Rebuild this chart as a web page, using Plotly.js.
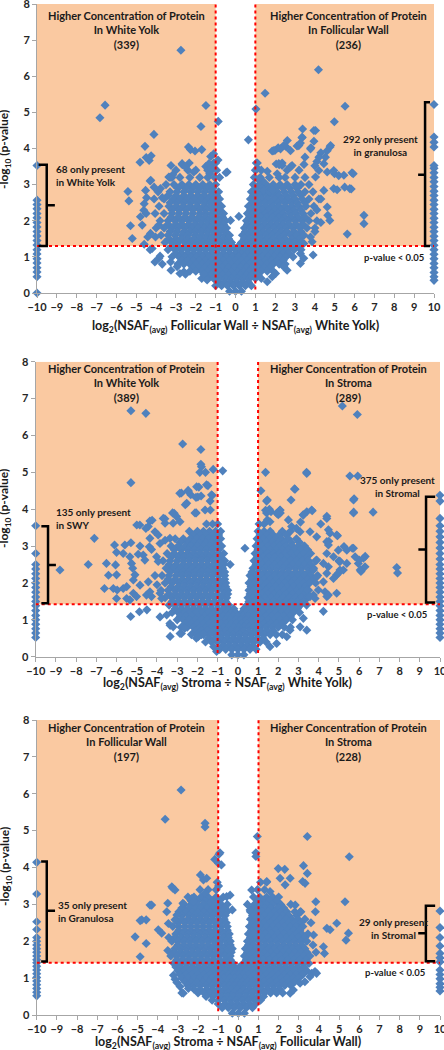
<!DOCTYPE html>
<html><head><meta charset="utf-8">
<script src="https://cdn.plot.ly/plotly-3.0.1.min.js"></script>
<style>html,body{margin:0;padding:0;background:#fff;}#chart{width:444px;height:1050px;}</style>
</head><body><div id="chart"></div>
<script>
// ---------------- DATA ----------------
const CAP = 10; // log2 ratio given to proteins present in one tissue only
const thresholds = [1.3, 1.42, 1.42]; // -log10(0.05) line as drawn in each panel

// Panel 1: log2(Follicular Wall / White Yolk)  rows: [ -log10 p , [log2 ratios] ]
const p1Rows = [
 [3.6,[-1.1,1.1]],
 [3.4,[-3.0,-2.4,-1.2,-0.95,1.0,1.3,2.6,3.2]],
 [3.2,[-3.3,-2.8,-2.3,-1.8,-1.4,-1.05,-0.8,0.95,1.25,1.7,2.2,2.5,3.0,3.5]],
 [3.0,[-3.5,-3.1,-2.7,-2.35,-2.0,-1.65,-1.3,-1.0,0.9,1.2,1.55,1.9,2.25,2.6,3.0,3.3,3.7]],
 [2.9,[-2.9,-2.5,-2.15,-1.8,-1.45,-1.15,1.0,1.35,1.7,2.05,2.4,2.75,3.1]],
 [2.8,[-3.9,-3.3,-2.95,-2.6,-2.25,-1.9,-1.55,-1.2,-0.85,0.8,1.1,1.4,1.75,2.1,2.45,2.8,3.15,3.5,3.9]],
 [2.7,[-3.4,-3.0,-2.6,-2.25,-1.9,-1.6,-1.25,-0.95,0.9,1.25,1.6,1.9,2.2,2.55,2.9,3.3]],
 [2.6,[-4.1,-3.6,-3.15,-2.8,-2.45,-2.1,-1.75,-1.4,-1.1,-0.8,0.75,1.05,1.35,1.65,2.0,2.3,2.65,3.0,3.35,3.7,4.2]],
 [2.5,[-3.3,-2.95,-2.6,-2.25,-1.9,-1.55,-1.25,-0.9,0.85,1.2,1.5,1.8,2.15,2.5,2.8,3.1,3.5]],
 [2.4,[-3.85,-3.35,-3.0,-2.65,-2.3,-1.95,-1.6,-1.3,-1.0,-0.7,0.65,0.95,1.25,1.55,1.9,2.2,2.5,2.85,3.2,3.55,3.95]],
 [2.3,[-3.2,-2.85,-2.5,-2.15,-1.8,-1.5,-1.15,-0.8,0.75,1.05,1.35,1.7,2.0,2.3,2.65,2.95,3.3]],
 [2.2,[-4.05,-3.6,-3.2,-2.85,-2.5,-2.15,-1.8,-1.5,-1.2,-0.9,-0.6,0.6,0.9,1.2,1.5,1.8,2.1,2.4,2.75,3.05,3.4,3.8]],
 [2.1,[-3.25,-2.9,-2.55,-2.2,-1.85,-1.55,-1.25,-0.95,-0.65,0.7,1.0,1.3,1.6,1.9,2.2,2.5,2.8,3.15,3.5]],
 [2.0,[-3.8,-3.4,-3.05,-2.7,-2.35,-2.0,-1.7,-1.4,-1.1,-0.8,-0.5,0.55,0.85,1.15,1.45,1.75,2.05,2.35,2.65,3.0,3.35,3.7,4.1]],
 [1.9,[-3.4,-3.0,-2.7,-2.35,-2.05,-1.75,-1.45,-1.15,-0.85,-0.6,0.6,0.9,1.2,1.5,1.8,2.1,2.4,2.7,3.05,3.4]],
 [1.8,[-4.0,-3.6,-3.2,-2.9,-2.55,-2.2,-1.9,-1.6,-1.3,-1.0,-0.7,-0.45,0.45,0.75,1.05,1.35,1.65,1.95,2.25,2.55,2.9,3.25,3.6,4.0]],
 [1.7,[-3.3,-2.95,-2.6,-2.3,-2.0,-1.7,-1.4,-1.1,-0.8,-0.5,0.5,0.8,1.1,1.4,1.7,2.0,2.3,2.6,2.95,3.3]],
 [1.6,[-3.75,-3.4,-3.05,-2.7,-2.4,-2.05,-1.75,-1.45,-1.15,-0.85,-0.55,-0.3,0.35,0.65,0.95,1.25,1.55,1.85,2.15,2.45,2.8,3.1,3.45]],
 [1.5,[-3.35,-3.0,-2.7,-2.4,-2.1,-1.8,-1.5,-1.2,-0.9,-0.6,-0.35,0.45,0.7,1.0,1.3,1.6,1.9,2.2,2.5,2.85,3.2]],
 [1.4,[-3.55,-3.2,-2.9,-2.55,-2.25,-1.95,-1.65,-1.35,-1.05,-0.75,-0.45,-0.2,0.3,0.55,0.85,1.15,1.45,1.75,2.05,2.35,2.7,3.0,3.35]],
 [1.3,[-3.2,-2.9,-2.55,-2.25,-1.95,-1.65,-1.35,-1.05,-0.75,-0.45,-0.15,0.15,0.4,0.65,0.95,1.25,1.55,1.85,2.15,2.45,2.8,3.1]],
 [1.2,[-3.4,-3.05,-2.75,-2.4,-2.1,-1.8,-1.5,-1.2,-0.9,-0.6,-0.3,0.0,0.25,0.5,0.8,1.1,1.4,1.7,2.0,2.3,2.6,2.95,3.3]],
 [1.1,[-3.0,-2.7,-2.4,-2.1,-1.8,-1.5,-1.2,-0.9,-0.6,-0.3,0.0,0.3,0.6,0.9,1.2,1.5,1.8,2.1,2.4,2.7]],
 [1.0,[-3.2,-2.85,-2.55,-2.25,-1.95,-1.65,-1.35,-1.05,-0.75,-0.45,-0.15,0.15,0.45,0.75,1.05,1.35,1.65,1.95,2.25,2.55,2.9]],
 [0.9,[-2.7,-2.4,-2.1,-1.8,-1.5,-1.2,-0.9,-0.6,-0.3,0.0,0.3,0.6,0.9,1.2,1.5,1.8,2.1,2.4]],
 [0.8,[-2.9,-2.6,-2.3,-2.0,-1.7,-1.4,-1.1,-0.8,-0.5,-0.2,0.1,0.4,0.7,1.0,1.3,1.6,1.9,2.2,2.5]],
 [0.7,[-2.15,-1.85,-1.55,-1.25,-0.95,-0.65,-0.35,-0.05,0.25,0.55,0.85,1.15,1.45,1.75]],
 [0.6,[-2.3,-2.0,-1.7,-1.4,-1.1,-0.8,-0.5,-0.2,0.1,0.4,0.7,1.0,1.3,1.6,1.9]],
 [0.5,[-1.55,-1.25,-0.95,-0.65,-0.35,-0.05,0.25,0.55,0.85,1.15]],
 [0.4,[-1.7,-1.4,-1.1,-0.8,-0.5,-0.2,0.1,0.4,0.7,1.0,1.3]],
 [0.3,[-0.85,-0.55,-0.25,0.05,0.35,0.65]],
 [0.2,[-1.0,-0.7,-0.4,-0.1,0.2,0.5,0.8]],
 [0.05,[-0.3,0.0,0.3]]
];
const p1Points = [
 [-2.75,6.72],[-6.83,4.85],[-6.57,5.2],[-1.49,5.19],[-0.87,4.75],[-1.74,4.61],[-4.11,4.39],[-4.56,4.06],[-4.81,3.62],[-4.5,3.75],[-4.35,3.67],[-4.25,3.8],[-3.25,3.53],[-2.68,3.55],[-2.37,4.04],[-2.27,3.97],[-2.33,3.6],[-2.04,3.93],[-1.7,3.97],[-2.0,3.4],[-1.5,3.5],[-1.4,3.4],[-1.3,3.3],[-1.25,3.78],[-1.34,3.58],[-1.2,3.45],[-0.88,3.68],[-0.48,3.33],[-3.2,3.2],[-4.3,3.1],[-3.16,3.27],[-3.36,3.21],[-2.69,3.58],[-2.52,3.49],[-2.1,3.35],[-4.27,3.12],[-5.42,2.81],[-5.37,2.55],[-4.53,2.84],[-4.48,2.64],[-3.78,2.89],[-3.69,2.64],[-4.62,2.29],[-4.79,2.11],[-4.7,1.88],[-5.29,1.86],[-5.2,1.51],[-4.42,1.55],[-4.28,1.65],[-3.86,1.88],[-4.03,1.55],[-4.2,1.23],[-3.86,0.96],[-3.69,0.8],[-3.27,0.86],[-2.94,0.73],[-2.6,0.59],[-2.52,0.52],[-1.6,0.52],[-1.43,0.36],[-0.42,3.35],[-0.25,2.01],[-4.6,2.47],[-4.5,2.2],[-4.1,2.93],[-4.06,0.86],[-3.25,0.63],[-2.8,0.54],[-4.6,1.35],[-4.3,1.2],[-3.8,1.02],[-1.1,3.85],[-1.0,3.6],
 [1.03,5.09],[1.49,5.53],[4.18,6.18],[5.52,5.17],[4.98,4.74],[0.65,4.24],[1.05,3.6],[3.38,4.54],[3.95,4.5],[3.95,4.2],[3.35,4.3],[2.61,4.22],[2.55,4.05],[3.1,4.07],[2.0,3.95],[1.85,3.93],[2.15,4.02],[3.8,4.02],[4.76,4.04],[4.3,3.88],[4.2,3.76],[4.1,3.64],[4.0,3.52],[3.5,3.76],[3.45,3.56],[2.05,3.57],[2.2,3.55],[2.35,3.6],[2.85,3.53],[1.6,3.37],[4.99,3.3],[5.87,3.33],[5.2,3.25],[4.62,3.94],[4.53,3.76],[4.45,3.58],[4.62,3.35],[4.95,3.39],[5.46,3.26],[5.93,3.3],[5.76,2.89],[4.45,2.84],[4.95,2.89],[5.12,2.86],[2.77,3.49],[4.62,2.38],[4.65,2.15],[4.75,2.01],[5.63,1.63],[6.47,2.15],[6.47,1.92],[3.78,1.55],[3.86,1.42],[3.91,1.05],[3.44,1.37],[3.27,1.09],[3.44,0.96],[3.27,0.82],[2.02,0.54],[1.85,0.45],[1.6,0.31],[2.6,0.63],[2.43,0.73],[0.17,2.12],[1.34,3.12],[1.43,2.84],[1.73,2.81],[1.85,2.84],[4.03,3.21],[4.2,3.39],[3.78,3.99],[4.79,4.08],[3.19,4.08],[2.77,3.94],[4.03,4.5],[3.27,4.15],[3.36,4.31],[2.43,4.08],[2.27,3.99],[1.93,3.94],[2.18,3.58],[2.35,3.53],[2.1,3.3],[1.1,3.45],[1.15,3.15],[5.5,2.93],[5.83,2.88],[4.3,2.6],[4.1,2.3],[4.3,1.95],[4.0,1.7]
];
const p1OnlyLow = [3.53,2.57,2.45,2.33,2.2,2.08,1.95,1.83,1.7,1.58,1.45,1.33,1.2,1.08,0.95,0.83,0.7,0.58,0.45,0.0];
const p1OnlyHigh = [5.22,4.32,4.17,4.04,3.53,3.45,3.33,3.2,3.08,2.95,2.82,2.7,2.57,2.45,2.32,2.2,2.07,1.95,1.82,1.7,1.57,1.45,1.32,1.2,1.07,0.95,0.82,0.7,0.57,0.45,0.35];

// Panel 2: log2(Stroma / White Yolk)
const p2Rows = [
 [3.6,[-1.55,-1.25,-1.0,1.05,1.3]],
 [3.4,[-2.4,-2.0,-1.7,-1.4,-1.1,-0.85,1.0,1.3,1.6,2.2,2.6]],
 [3.3,[-2.2,-1.85,-1.55,-1.25,-0.95,1.1,1.45,1.75,2.05,2.4]],
 [3.2,[-3.1,-2.7,-2.35,-2.05,-1.75,-1.45,-1.15,-0.85,0.95,1.25,1.55,1.85,2.15,2.5,2.9]],
 [3.1,[-2.85,-2.5,-2.2,-1.9,-1.6,-1.3,-1.0,1.05,1.4,1.7,2.0,2.3,2.65,3.05]],
 [3.0,[-3.3,-2.95,-2.6,-2.3,-2.0,-1.7,-1.4,-1.1,-0.8,0.9,1.2,1.5,1.8,2.1,2.4,2.7,3.0,3.3]],
 [2.9,[-3.15,-2.8,-2.45,-2.15,-1.85,-1.55,-1.25,-0.95,1.0,1.3,1.6,1.9,2.2,2.5,2.8,3.1,3.45]],
 [2.8,[-3.5,-3.15,-2.8,-2.5,-2.2,-1.9,-1.6,-1.3,-1.0,-0.7,0.85,1.15,1.45,1.75,2.05,2.35,2.65,2.95,3.25,3.6]],
 [2.7,[-3.3,-2.95,-2.65,-2.35,-2.05,-1.75,-1.45,-1.15,-0.85,0.95,1.25,1.55,1.85,2.15,2.45,2.75,3.05,3.4]],
 [2.6,[-3.7,-3.35,-3.0,-2.7,-2.4,-2.1,-1.8,-1.5,-1.2,-0.9,-0.65,0.8,1.1,1.4,1.7,2.0,2.3,2.6,2.9,3.2,3.5,3.85]],
 [2.5,[-3.4,-3.05,-2.7,-2.4,-2.1,-1.8,-1.5,-1.2,-0.9,-0.7,0.9,1.2,1.5,1.8,2.1,2.4,2.7,3.0,3.3,3.6]],
 [2.4,[-3.55,-3.2,-2.85,-2.55,-2.25,-1.95,-1.65,-1.35,-1.05,-0.75,0.75,1.05,1.35,1.65,1.95,2.25,2.55,2.85,3.15,3.45,3.75]],
 [2.3,[-3.35,-3.0,-2.7,-2.4,-2.1,-1.8,-1.5,-1.2,-0.9,-0.65,0.7,1.0,1.3,1.6,1.9,2.2,2.5,2.85,3.15,3.5]],
 [2.2,[-3.75,-3.4,-3.05,-2.75,-2.45,-2.15,-1.85,-1.55,-1.25,-0.95,-0.65,0.6,0.9,1.2,1.5,1.8,2.1,2.4,2.7,3.0,3.3,3.6,3.95]],
 [2.1,[-3.45,-3.1,-2.75,-2.45,-2.15,-1.85,-1.55,-1.25,-0.95,-0.65,0.7,1.0,1.3,1.6,1.9,2.2,2.5,2.8,3.1,3.45,3.75]],
 [2.0,[-3.6,-3.25,-2.9,-2.6,-2.3,-2.0,-1.7,-1.4,-1.1,-0.8,-0.6,0.55,0.85,1.15,1.45,1.75,2.05,2.35,2.65,2.95,3.25,3.55,3.85]],
 [1.9,[-3.3,-2.95,-2.65,-2.35,-2.05,-1.75,-1.45,-1.15,-0.85,-0.6,0.65,0.95,1.25,1.55,1.85,2.15,2.45,2.75,3.05,3.35]],
 [1.8,[-3.8,-3.45,-3.1,-2.8,-2.5,-2.2,-1.9,-1.6,-1.3,-1.0,-0.7,-0.5,0.55,0.8,1.1,1.4,1.7,2.0,2.3,2.6,2.9,3.2,3.5]],
 [1.7,[-3.4,-3.1,-2.8,-2.5,-2.2,-1.9,-1.6,-1.3,-1.0,-0.7,-0.5,0.6,0.9,1.2,1.5,1.8,2.1,2.4,2.7,3.0,3.3]],
 [1.6,[-3.6,-3.25,-2.95,-2.65,-2.35,-2.05,-1.75,-1.45,-1.15,-0.85,-0.55,0.5,0.75,1.05,1.35,1.65,1.95,2.25,2.55,2.85,3.15,3.45]],
 [1.5,[-3.25,-2.95,-2.65,-2.35,-2.05,-1.75,-1.45,-1.15,-0.85,-0.6,0.55,0.85,1.15,1.45,1.75,2.05,2.35,2.65,2.95,3.25]],
 [1.4,[-3.4,-3.1,-2.8,-2.5,-2.2,-1.9,-1.6,-1.3,-1.0,-0.7,-0.45,0.45,0.7,1.0,1.3,1.6,1.9,2.2,2.5,2.8,3.1,3.4]],
 [1.3,[-3.1,-2.8,-2.5,-2.2,-1.9,-1.6,-1.3,-1.0,-0.7,-0.45,-0.2,0.3,0.55,0.85,1.15,1.45,1.75,2.05,2.35,2.65,2.95]],
 [1.2,[-3.25,-2.95,-2.65,-2.35,-2.05,-1.75,-1.45,-1.15,-0.85,-0.55,-0.3,-0.1,0.2,0.4,0.65,0.95,1.25,1.55,1.85,2.15,2.45,2.75,3.05]],
 [1.1,[-2.85,-2.55,-2.25,-1.95,-1.65,-1.35,-1.05,-0.75,-0.5,-0.25,0.0,0.25,0.5,0.8,1.1,1.4,1.7,2.0,2.3,2.6]],
 [1.0,[-3.0,-2.7,-2.4,-2.1,-1.8,-1.5,-1.2,-0.9,-0.6,-0.35,-0.1,0.15,0.4,0.65,0.9,1.2,1.5,1.8,2.1,2.4,2.7]],
 [0.9,[-2.6,-2.3,-2.0,-1.7,-1.4,-1.1,-0.8,-0.55,-0.3,-0.05,0.2,0.45,0.7,1.0,1.3,1.6,1.9,2.2]],
 [0.8,[-2.8,-2.5,-2.2,-1.9,-1.6,-1.3,-1.0,-0.7,-0.45,-0.2,0.05,0.3,0.55,0.8,1.1,1.4,1.7,2.0,2.3,2.6]],
 [0.7,[-2.1,-1.8,-1.5,-1.2,-0.9,-0.6,-0.35,-0.05,0.25,0.55,0.85,1.15,1.45,1.75]],
 [0.6,[-2.3,-2.0,-1.7,-1.4,-1.1,-0.8,-0.5,-0.2,0.1,0.4,0.7,1.0,1.3,1.6,1.9,2.2]],
 [0.5,[-1.45,-1.15,-0.85,-0.55,-0.25,0.05,0.35,0.65,0.95,1.25]],
 [0.4,[-1.6,-1.3,-1.0,-0.7,-0.4,-0.1,0.2,0.5,0.8,1.1,1.4]],
 [0.3,[-0.75,-0.45,-0.15,0.15,0.45,0.75]],
 [0.2,[-0.9,-0.6,-0.3,0.0,0.3,0.6,0.9]],
 [0.05,[-0.3,0.0,0.3]]
];
const p2Points = [
 [-5.29,6.67],[-4.55,6.6],[-5.29,4.72],[-2.73,5.77],[-1.83,5.62],[-1.83,5.22],[-1.8,5.15],[-1.88,5.0],[-1.6,5.0],[-1.22,5.08],[-0.75,5.04],[-2.79,4.44],[-2.46,4.51],[-2.33,4.39],[-2.6,4.12],[-1.93,4.6],[-1.98,4.33],[-1.48,4.64],[-1.37,4.22],[-1.27,4.37],[-1.36,3.98],[-2.06,3.9],[-3.15,3.89],[-3.61,3.74],[-4.24,3.7],[-7.1,3.21],[-7.4,2.5],[-8.8,2.35],[-6.1,3.03],[-6.0,2.83],[-6.5,2.53],[-6.4,2.21],[-6.6,1.85],[-6.0,1.58],[-5.97,1.81],[-5.3,1.09],[-4.87,1.22],[-4.5,1.27],[-3.35,0.85],[-3.35,0.55],[-2.79,0.63],[-2.05,0.5],[-1.8,0.6],[-1.2,0.27],[-0.38,2.5],[-0.88,2.53],[-2.53,4.16],[-2.12,3.9],[-1.62,3.98],[-3.23,3.9],[-3.03,3.8],[-2.86,3.66],[-3.2,3.62],[-3.69,3.75],[-3.6,3.62],[-4.35,3.68],[-4.43,3.53],[-5.0,3.57],[-4.85,3.57],[-4.55,3.48],[-4.1,3.39],[-3.94,3.3],[-3.85,3.07],[-3.6,3.16],[-3.36,3.21],[-4.35,3.21],[-4.38,2.98],[-4.27,2.91],[-4.84,3.0],[-4.93,2.78],[-5.29,3.09],[-5.59,3.03],[-5.67,2.8],[-6.05,2.49],[-6.0,2.22],[-5.34,2.71],[-5.26,2.53],[-4.68,2.76],[-4.6,2.62],[-4.02,2.71],[-3.94,2.58],[-5.09,2.22],[-5.17,2.08],[-6.16,1.85],[-5.67,1.85],[-5.5,1.9],[-4.84,1.94],[-4.43,2.03],[-5.17,1.72],[-5.01,1.63],[-4.52,1.67],[-4.27,1.63],[-4.35,1.76],[-3.85,1.72],[-3.77,1.58],[-5.5,1.58],[-5.34,1.54],[-3.85,1.08],[-3.52,1.13],[-3.36,0.9],[-3.2,0.81],[-2.86,0.63],[-2.62,0.77],[-1.96,0.54],[-1.71,0.63],[-1.05,0.14],[-2.07,4.32],[-1.82,4.36],[-1.3,4.39],[-2.04,4.61],[-1.55,4.66],[-2.87,4.43],[-2.45,4.48],[-5.2,2.4],[-4.1,2.2],[-4.0,1.95],
 [1.37,5.0],[3.4,5.0],[5.17,6.8],[5.91,6.57],[5.54,4.9],[5.93,4.9],[5.75,4.28],[5.73,3.92],[6.69,3.92],[1.14,4.5],[1.42,4.22],[2.8,4.55],[2.63,4.25],[1.37,3.97],[1.42,3.9],[2.08,3.97],[2.0,3.85],[2.1,3.9],[3.23,3.85],[3.68,3.96],[4.4,3.81],[7.86,2.42],[7.9,2.27],[5.96,2.53],[6.1,2.35],[6.3,2.72],[6.0,2.62],[5.66,2.94],[5.25,2.99],[5.0,2.6],[4.93,3.28],[4.5,3.13],[4.4,2.8],[4.23,1.23],[0.35,2.94],[3.41,4.97],[2.83,4.54],[1.46,4.25],[1.56,4.0],[1.64,3.93],[2.09,3.98],[1.92,3.89],[1.46,3.71],[1.59,3.66],[2.5,3.71],[3.41,3.93],[3.65,3.98],[3.24,3.84],[4.4,3.75],[5.72,4.25],[5.72,3.9],[2.66,3.53],[2.9,3.48],[3.08,3.39],[3.57,3.39],[3.9,3.25],[4.48,3.44],[4.56,3.35],[4.89,3.3],[4.4,3.12],[4.48,3.03],[4.97,2.89],[5.39,2.89],[5.72,2.94],[5.8,2.71],[6.21,2.67],[6.29,2.44],[6.05,2.35],[5.39,2.53],[5.02,2.58],[4.73,2.71],[4.48,2.44],[4.23,2.53],[3.9,2.62],[5.05,2.35],[5.22,2.35],[4.89,2.22],[4.73,2.12],[4.4,2.26],[4.23,2.03],[3.74,2.35],[3.9,2.17],[4.31,1.76],[4.4,1.63],[3.74,1.67],[3.98,1.81],[3.41,1.81],[3.57,1.63],[4.89,1.72],[3.24,1.04],[3.41,0.72],[3.08,0.81],[2.58,0.72],[2.42,0.54],[1.92,0.36],[1.59,0.27],[3.82,1.58],[4.48,1.67],[6.09,2.31],[5.06,2.58],[4.97,2.26],[4.1,3.6],[3.1,3.65]
];
const p2OnlyLow = [3.55,2.8,2.5,2.38,2.25,2.12,2.0,1.88,1.75,1.62,1.5,1.38,1.25,1.12,1.0,0.88,0.76,0.64,0.52];
const p2OnlyHigh = [4.38,4.22,3.75,3.55,3.4,3.25,3.1,2.95,2.8,2.65,2.5,2.38,2.25,2.12,2.0,1.88,1.75,1.62,1.5,1.38,1.25,1.12,1.0,0.88,0.76,0.64,0.52];

// Panel 3: log2(Stroma / Follicular Wall)
const p3Rows = [
 [3.6,[-1.05,1.1,1.4]],
 [3.4,[-1.9,-1.5,-1.1,0.95,1.3]],
 [3.2,[-2.5,-2.2,-1.85,-1.5,-1.1,-0.75,0.75,1.05,1.4,1.7,2.0]],
 [3.1,[-2.35,-2.0,-1.65,-1.3,-0.95,0.95,1.25,1.55,1.9]],
 [3.0,[-2.7,-2.35,-2.05,-1.75,-1.45,-1.15,-0.85,-0.55,0.45,0.8,1.1,1.4,1.7,2.1,2.6]],
 [2.9,[-2.8,-2.45,-2.15,-1.85,-1.55,-1.25,-0.95,-0.65,0.7,1.0,1.3,1.6,1.95,2.25]],
 [2.8,[-2.95,-2.6,-2.3,-2.0,-1.7,-1.4,-1.1,-0.8,-0.55,0.6,0.9,1.2,1.5,1.8,2.1,2.4,2.8,3.1]],
 [2.7,[-2.8,-2.45,-2.15,-1.85,-1.55,-1.25,-0.95,-0.65,0.7,1.0,1.3,1.6,1.9,2.2,2.5,2.9]],
 [2.6,[-3.1,-2.8,-2.5,-2.2,-1.9,-1.6,-1.3,-1.0,-0.7,0.6,0.85,1.15,1.45,1.75,2.05,2.35,2.65,2.95,3.3]],
 [2.5,[-3.0,-2.65,-2.35,-2.05,-1.75,-1.45,-1.15,-0.85,-0.6,0.7,1.0,1.3,1.6,1.9,2.2,2.5,2.8,3.1]],
 [2.4,[-3.25,-2.95,-2.65,-2.35,-2.05,-1.75,-1.45,-1.15,-0.85,-0.55,0.55,0.8,1.1,1.4,1.7,2.0,2.3,2.6,2.9,3.2]],
 [2.3,[-2.95,-2.65,-2.35,-2.05,-1.75,-1.45,-1.15,-0.85,-0.55,0.65,0.95,1.25,1.55,1.85,2.15,2.45,2.75,3.05]],
 [2.2,[-3.1,-2.8,-2.5,-2.2,-1.9,-1.6,-1.3,-1.0,-0.7,-0.45,0.5,0.75,1.05,1.35,1.65,1.95,2.25,2.55,2.85,3.15,3.45]],
 [2.1,[-3.15,-2.85,-2.55,-2.25,-1.95,-1.65,-1.35,-1.05,-0.75,-0.5,0.6,0.9,1.2,1.5,1.8,2.1,2.4,2.7,3.0,3.3]],
 [2.0,[-3.3,-3.0,-2.7,-2.4,-2.1,-1.8,-1.5,-1.2,-0.9,-0.6,-0.4,0.45,0.7,1.0,1.3,1.6,1.9,2.2,2.5,2.8,3.1,3.4]],
 [1.9,[-3.0,-2.7,-2.4,-2.1,-1.8,-1.5,-1.2,-0.9,-0.6,-0.4,0.5,0.75,1.05,1.35,1.65,1.95,2.25,2.55,2.85,3.15]],
 [1.8,[-3.15,-2.85,-2.55,-2.25,-1.95,-1.65,-1.35,-1.05,-0.75,-0.5,-0.3,0.35,0.6,0.9,1.2,1.5,1.8,2.1,2.4,2.7,3.0,3.3]],
 [1.7,[-3.2,-2.9,-2.6,-2.3,-2.0,-1.7,-1.4,-1.1,-0.8,-0.55,-0.35,0.45,0.7,1.0,1.3,1.6,1.9,2.2,2.5,2.8,3.1,3.4]],
 [1.6,[-3.35,-3.05,-2.75,-2.45,-2.15,-1.85,-1.55,-1.25,-0.95,-0.65,-0.4,0.3,0.55,0.85,1.15,1.45,1.75,2.05,2.35,2.65,2.95,3.25,3.55]],
 [1.5,[-3.05,-2.75,-2.45,-2.15,-1.85,-1.55,-1.25,-0.95,-0.65,-0.4,0.4,0.65,0.95,1.25,1.55,1.85,2.15,2.45,2.75,3.05,3.35]],
 [1.4,[-3.2,-2.9,-2.6,-2.3,-2.0,-1.7,-1.4,-1.1,-0.8,-0.5,-0.25,0.25,0.5,0.8,1.1,1.4,1.7,2.0,2.3,2.6,2.9,3.2,3.5]],
 [1.3,[-3.1,-2.85,-2.55,-2.25,-1.95,-1.65,-1.35,-1.05,-0.75,-0.45,-0.2,0.05,0.3,0.55,0.85,1.15,1.45,1.75,2.05,2.35,2.65,2.95,3.25]],
 [1.2,[-3.0,-2.7,-2.4,-2.1,-1.8,-1.5,-1.2,-0.9,-0.6,-0.35,-0.1,0.15,0.4,0.7,1.0,1.3,1.6,1.9,2.2,2.5,2.8,3.1,3.4]],
 [1.1,[-2.9,-2.6,-2.3,-2.0,-1.7,-1.4,-1.1,-0.8,-0.5,-0.25,0.0,0.25,0.5,0.8,1.1,1.4,1.7,2.0,2.3,2.6,2.9,3.2]],
 [1.0,[-2.8,-2.5,-2.2,-1.9,-1.6,-1.3,-1.0,-0.7,-0.4,-0.15,0.1,0.35,0.6,0.9,1.2,1.5,1.8,2.1,2.4,2.7,3.0]],
 [0.9,[-2.65,-2.35,-2.05,-1.75,-1.45,-1.15,-0.85,-0.55,-0.3,-0.05,0.2,0.45,0.7,1.0,1.3,1.6,1.9,2.2,2.5,2.8]],
 [0.8,[-2.5,-2.2,-1.9,-1.6,-1.3,-1.0,-0.7,-0.45,-0.2,0.05,0.3,0.55,0.8,1.1,1.4,1.7,2.0,2.3,2.6]],
 [0.7,[-2.2,-1.9,-1.55,-1.25,-0.95,-0.65,-0.35,-0.05,0.25,0.55,0.85,1.15,1.45,1.75,2.05]],
 [0.6,[-2.0,-1.7,-1.4,-1.1,-0.8,-0.5,-0.2,0.1,0.4,0.7,1.0,1.3,1.6,1.9,2.2]],
 [0.5,[-1.6,-1.25,-0.85,-0.55,-0.25,0.05,0.35,0.65,0.95,1.25]],
 [0.4,[-1.3,-1.0,-0.7,-0.4,-0.1,0.2,0.5,0.8,1.1]],
 [0.3,[-1.0,-0.65,-0.35,-0.05,0.25,0.55,0.85]],
 [0.2,[-0.8,-0.5,-0.2,0.1,0.4,0.7]],
 [0.05,[-0.3,0.0,0.3]]
];
const p3Points = [
 [-2.84,6.1],[-3.63,5.31],[-1.65,5.2],[-1.65,5.1],[-1.17,4.22],[-0.96,4.36],[-0.84,4.07],[-0.91,4.4],[-0.98,4.11],[-1.57,3.71],[-1.73,3.66],[-1.88,3.8],[-1.65,3.3],[-0.98,3.5],[-0.41,3.25],[-0.58,3.21],[-0.3,2.85],[-3.3,3.48],[-3.14,3.39],[-3.25,3.44],[-4.38,2.98],[-4.79,2.58],[-4.57,2.58],[-5.12,2.12],[-4.57,1.94],[-4.87,1.58],[-3.97,2.31],[-3.8,2.22],[-3.5,3.03],[-3.55,2.8],[-3.05,2.71],[-3.14,2.58],[-2.31,3.16],[-2.23,3.07],[-2.75,3.03],[-3.47,2.48],[-3.14,0.97],[-3.05,0.88],[-2.8,0.6],[-2.89,0.77],[-2.73,0.59],[-2.48,0.72],[-3.22,1.08],[-4.87,2.56],[-4.3,2.98],[-3.5,1.75],[-3.45,2.1],
 [0.94,4.84],[0.87,4.4],[0.87,4.3],[3.42,4.84],[5.5,4.29],[3.23,4.05],[1.98,3.97],[2.3,3.95],[3.42,3.84],[3.19,3.62],[3.31,3.57],[2.07,3.71],[2.57,3.71],[2.32,3.53],[1.41,3.62],[1.57,3.35],[2.82,2.98],[3.07,2.8],[3.82,2.8],[3.73,2.17],[3.84,3.07],[5.29,3.07],[5.46,2.22],[5.34,2.03],[4.88,2.49],[4.39,2.35],[4.55,2.31],[4.22,1.85],[4.27,1.67],[3.85,1.7],[3.64,1.13],[3.8,1.18],[0.66,3.39],[0.58,2.85],[3.06,0.86],[3.3,0.9],[3.55,1.04],[3.88,1.13],[2.57,0.59],[2.73,0.68],[3.6,2.5],[3.7,1.9]
];
const p3OnlyLow = [4.14,3.28,2.53,2.32,2.1,2.0,1.9,1.8,1.7,1.6,1.5,1.42,1.32,1.22,1.12,1.02,0.92,0.82,0.72,0.62,0.52];
const p3OnlyHigh = [2.82,2.37,2.1,1.87,1.67,1.55,1.44,1.22,1.1,0.98,0.85,0.75,0.65];

// Text
const headersLeft = ['In White Yolk<br>(339)','In White Yolk<br>(389)','In Follicular Wall<br>(197)'];
const headersRight = ['In Follicular Wall<br>(236)','In Stroma<br>(289)','In Stroma<br>(228)'];
const onlyLowText = ['68 only present<br>in White Yolk','135 only present<br>in SWY','35 only present<br>in Granulosa'];
const onlyHighText = ['292 only present<br>in granulosa','375 only present<br>in Stromal','29 only present<br>in Stromal'];
const xTitles = [
 'log<sub>2</sub>(NSAF<sub>(avg)</sub> Follicular Wall ÷ NSAF<sub>(avg)</sub> White Yolk)',
 'log<sub>2</sub>(NSAF<sub>(avg)</sub> Stroma ÷ NSAF<sub>(avg)</sub> White Yolk)',
 'log<sub>2</sub>(NSAF<sub>(avg)</sub> Stroma ÷ NSAF<sub>(avg)</sub> Follicular Wall)'
];

// ---------------- BUILD ----------------
function build(rows, pts, low, high){
  const x=[], y=[];
  rows.forEach(r=>r[1].forEach(v=>{x.push(v); y.push(r[0]);}));
  pts.forEach(p=>{x.push(p[0]); y.push(p[1]);});
  low.forEach(v=>{x.push(-CAP); y.push(v);});
  high.forEach(v=>{x.push(CAP); y.push(v);});
  return {x,y};
}
const panels = [
  build(p1Rows,p1Points,p1OnlyLow,p1OnlyHigh),
  build(p2Rows,p2Points,p2OnlyLow,p2OnlyHigh),
  build(p3Rows,p3Points,p3OnlyLow,p3OnlyHigh)
];

const W=444, H=1050;
const PX = v=>v/W, PY = v=>1-v/H;
// pixel geometry of each panel: [left, right, top, bottom]
const geom = [[37,434,4,293],[35.7,440,361.7,656.7],[36.7,440,720,1015]];

const FONT = 'Lato, "Open Sans", sans-serif';
const BLUE = '#4F81BD', ORANGE = '#FAC9A1', RED = '#FF0000', TXT = '#1a1a1a';

const traces = panels.map((d,i)=>({
  type:'scatter', mode:'markers', x:d.x, y:d.y,
  xaxis: i===0?'x':'x'+(i+1), yaxis: i===0?'y':'y'+(i+1),
  marker:{symbol:'diamond', size:7, color:BLUE, line:{width:0}},
  cliponaxis:false, hoverinfo:'x+y', showlegend:false
}));

const layout = {
  width:W, height:H, autosize:false,
  margin:{l:0,r:0,t:0,b:0},
  paper_bgcolor:'#fff', plot_bgcolor:'rgba(0,0,0,0)',
  showlegend:false, shapes:[], annotations:[]
};
const tickfont = {family:FONT, size:11, weight:'bold', color:'#262626'};

// bracket geometry (data coordinates): [x end, x spine, y top, y bottom, y middle, x middle tip]
const bracketsLow = [[-9.92,-9.51,3.55,1.3,2.43,-9.1],[-9.72,-9.39,3.54,1.45,2.49,-9.0],[-9.78,-9.5,4.16,1.45,2.83,-9.09]];
const bracketsHigh = [[9.8,9.55,5.28,1.3,3.27,9.2],[9.76,9.31,4.34,1.47,2.91,8.93],[9.76,9.3,2.96,1.46,2.22,8.92]];
const textPos = [
  {hy:30.3, low:[54,176], high:[380,145.5], pv:[394,257], xt:[235,327], yt:150},
  {hy:383, low:[54,519], high:[397,486.5], pv:[397,614], xt:[227,683], yt:509},
  {hy:741.5, low:[56,911.5], high:[393,928.5], pv:[395,972], xt:[228,1042], yt:867}
];

geom.forEach((g,i)=>{
  const s = i===0?'':String(i+1);
  const xa = 'x'+s, ya = 'y'+s;
  const common = {showgrid:false, zeroline:false, showline:true, linecolor:'#A6A6A6', linewidth:1,
    ticks:'outside', ticklen:4, tickcolor:'#A6A6A6', tickfont, ticklabeloverflow:'allow', fixedrange:true};
  layout['xaxis'+s] = Object.assign({domain:[PX(g[0]),PX(g[1])], range:[-10,10], anchor:ya,
    tickmode:'linear', tick0:-10, dtick:1}, common);
  layout['yaxis'+s] = Object.assign({domain:[PY(g[3]),PY(g[2])], range:[0,8], anchor:xa,
    tickmode:'linear', tick0:0, dtick:1}, common);
  const thr = thresholds[i];
  const sh = layout.shapes;
  sh.push({type:'rect', xref:xa, yref:ya, x0:-10, x1:-1, y0:thr, y1:8, fillcolor:ORANGE, line:{width:0}, layer:'below'});
  sh.push({type:'rect', xref:xa, yref:ya, x0:1, x1:10, y0:thr, y1:8, fillcolor:ORANGE, line:{width:0}, layer:'below'});
  const red = {color:RED, width:2, dash:'dot'};
  sh.push({type:'line', xref:xa, yref:ya, x0:-1, x1:-1, y0:0.1, y1:8, line:red});
  sh.push({type:'line', xref:xa, yref:ya, x0:1, x1:1, y0:0.1, y1:8, line:red});
  sh.push({type:'line', xref:xa, yref:ya, x0:-10, x1:10, y0:thr, y1:thr, line:red});
  [bracketsLow[i], bracketsHigh[i]].forEach(b=>{
    sh.push({type:'path', xref:xa, yref:ya,
      path:`M ${b[0]},${b[2]} L ${b[1]},${b[2]} L ${b[1]},${b[3]} L ${b[0]},${b[3]} M ${b[1]},${b[4]} L ${b[5]},${b[4]}`,
      line:{color:'#000', width:2.5}});
  });
  const t = textPos[i], an = layout.annotations;
  const f = (sz)=>({family:FONT, size:sz, weight:'bold', color:TXT});
  an.push({xref:'paper', yref:'paper', x:PX(126.5), y:PY(t.hy), xanchor:'center', yanchor:'middle', showarrow:false,
    text:'Higher Concentration of Protein<br>'+headersLeft[i], font:f(11)});
  an.push({xref:'paper', yref:'paper', x:PX(348), y:PY(t.hy), xanchor:'center', yanchor:'middle', showarrow:false,
    text:'Higher Concentration of Protein<br>'+headersRight[i], font:f(11)});
  an.push({xref:'paper', yref:'paper', x:PX(t.low[0]), y:PY(t.low[1]), xanchor:'left', yanchor:'middle', align:'left', showarrow:false,
    text:onlyLowText[i], font:f(10)});
  an.push({xref:'paper', yref:'paper', x:PX(t.high[0]), y:PY(t.high[1]), xanchor:'center', yanchor:'middle', showarrow:false,
    text:onlyHighText[i], font:f(10)});
  an.push({xref:'paper', yref:'paper', x:PX(t.pv[0]), y:PY(t.pv[1]), xanchor:'center', yanchor:'middle', showarrow:false,
    text:'p-value &lt; 0.05', font:f(9.5)});
  an.push({xref:'paper', yref:'paper', x:PX(t.xt[0]), y:PY(t.xt[1]), xanchor:'center', yanchor:'middle', showarrow:false,
    text:xTitles[i], font:f(12.5)});
  an.push({xref:'paper', yref:'paper', x:PX(5), y:PY(t.yt), xanchor:'center', yanchor:'middle', showarrow:false, textangle:-90,
    text:'-log<sub>10</sub> (p-value)', font:f(12)});
});

Plotly.newPlot('chart', traces, layout, {displayModeBar:false, staticPlot:true});
</script></body></html>
